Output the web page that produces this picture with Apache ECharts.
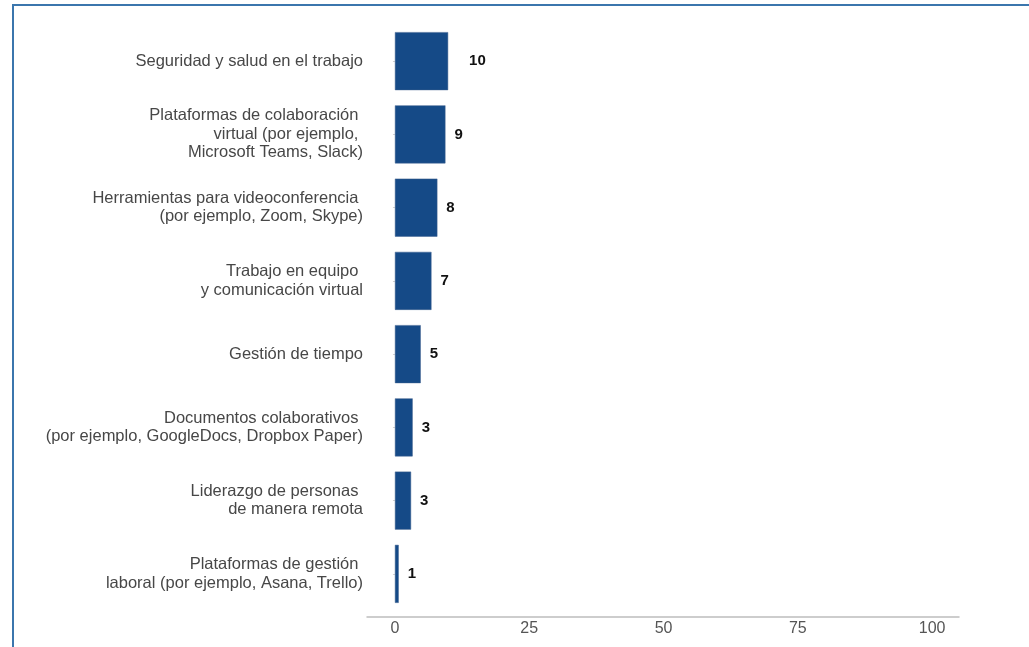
<!DOCTYPE html>
<html>
<head>
<meta charset="utf-8">
<script src="https://cdn.jsdelivr.net/npm/echarts@6/dist/echarts.min.js"></script>
<style>
  html, body { margin: 0; padding: 0; background: #fff; }
  #chart { width: 1029px; height: 647px; }
</style>
</head>
<body>
<div id="chart"></div>
<script>
const categories = [
  "Seguridad y salud en el trabajo",
  "Plataformas de colaboración \nvirtual (por ejemplo, \nMicrosoft Teams, Slack)",
  "Herramientas para videoconferencia \n(por ejemplo, Zoom, Skype)",
  "Trabajo en equipo \ny comunicación virtual",
  "Gestión de tiempo",
  "Documentos colaborativos \n(por ejemplo, GoogleDocs, Dropbox Paper)",
  "Liderazgo de personas \nde manera remota",
  "Plataformas de gestión \nlaboral (por ejemplo, Asana, Trello)"
];
const values = [9.9, 9.4, 7.9, 6.8, 4.8, 3.3, 3.0, 0.7];
const valueLabels = ["10", "9", "8", "7", "5", "3", "3", "1"];
const xTicks = [0, 25, 50, 75, 100];

const chart = echarts.init(document.getElementById('chart'), null, { renderer: 'canvas' });
const FONT = '"Liberation Sans", Arial, sans-serif';

chart.setOption({
  animation: false,
  backgroundColor: '#ffffff',
  graphic: [{
    type: 'rect',
    shape: { x: 13, y: 5, width: 1200, height: 800 },
    style: { fill: 'none', stroke: '#3b76ad', lineWidth: 2 },
    silent: true
  }],
  grid: { left: 367, right: 70, top: 24.5, bottom: 36.5, containLabel: false },
  xAxis: {
    type: 'value',
    min: -5.2,
    max: 105,
    offset: 6.5,
    splitLine: { show: false },
    axisTick: { show: false },
    axisLine: { show: true, lineStyle: { color: '#bdbdbd', width: 1.5 } },
    axisLabel: {
      customValues: xTicks,
      color: '#555555',
      fontSize: 16,
      fontFamily: FONT,
      margin: 4
    }
  },
  yAxis: {
    type: 'category',
    inverse: true,
    data: categories,
    axisLine: { show: false },
    axisTick: { show: true, alignWithLabel: true, length: 2, lineStyle: { color: '#d0d0d0' } },
    axisLabel: {
      color: '#474747',
      fontSize: 16.5,
      fontFamily: FONT,
      lineHeight: 18.5,
      margin: 4,
      align: 'right'
    }
  },
  series: [{
    type: 'bar',
    data: values.map((v, i) => ({
      value: v,
      label: { distance: i === 0 ? 21 : 9 }
    })),
    barWidth: 58,
    itemStyle: { color: '#154a87', borderColor: '#3c5f8c', borderWidth: 0.5 },
    label: {
      show: true,
      position: 'right',
      formatter: p => valueLabels[p.dataIndex],
      color: '#111111',
      fontWeight: 'bold',
      fontSize: 15,
      fontFamily: FONT
    }
  }]
});
</script>
</body>
</html>
